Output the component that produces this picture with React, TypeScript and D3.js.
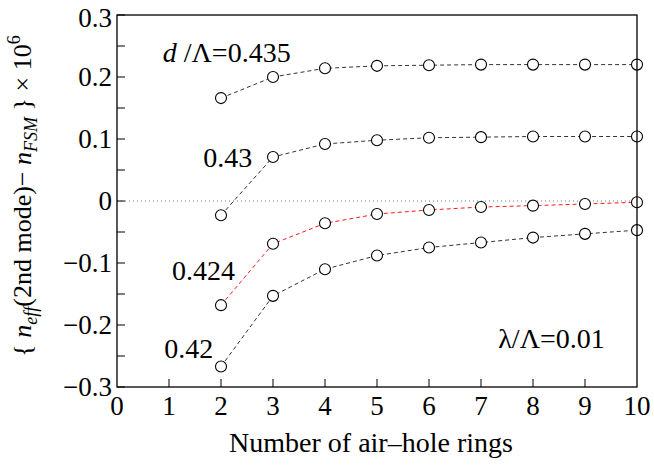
import React from 'react';
import * as d3 from 'd3';

// число колец воздушных отверстий
const rings = [2, 3, 4, 5, 6, 7, 8, 9, 10];

// {n_eff(2nd mode) - n_FSM} x 10^6
const s0435 = [0.166, 0.2, 0.214, 0.218, 0.219, 0.22, 0.22, 0.22, 0.22];
const s043 = [-0.023, 0.071, 0.092, 0.098, 0.102, 0.103, 0.104, 0.104, 0.104];
const s0424 = [-0.168, -0.069, -0.036, -0.021, -0.0145, -0.0097, -0.0075, -0.0048, -0.002];
const s042 = [-0.267, -0.153, -0.11, -0.088, -0.075, -0.067, -0.059, -0.053, -0.047];

const xTicks = [0, 1, 2, 3, 4, 5, 6, 7, 8, 9, 10];
const yTicks = [-0.3, -0.2, -0.1, 0, 0.1, 0.2, 0.3];
const yMinor = [-0.25, -0.15, -0.05, 0.05, 0.15, 0.25];

const series = [
  { name: '0.435', values: s0435, color: '#333' },
  { name: '0.43', values: s043, color: '#333' },
  { name: '0.424', values: s0424, color: '#ff1a1a' },
  { name: '0.42', values: s042, color: '#333' },
];

const width = 654;
const height = 472;
const margin = { top: 15, right: 17, bottom: 85, left: 117 };
const tf = { fontFamily: 'Liberation Serif' };

const fmtY = (v: number) => (v === 0 ? '0' : (v < 0 ? '\u2212' : '') + Math.abs(v).toFixed(1));

export default function App() {
  const x = d3.scaleLinear().domain([0, 10]).range([margin.left, width - margin.right]);
  const y = d3.scaleLinear().domain([-0.3, 0.3]).range([height - margin.bottom, margin.top]);

  const line = d3.line<number>()
    .x((_, i) => x(rings[i]))
    .y(d => y(d));

  const x0 = x(0), x1 = x(10), y0 = y(-0.3), y1 = y(0.3);

  return (
    <svg width={width} height={height} style={{ position: 'absolute', left: 0, top: 0 }}>
      <rect width={width} height={height} fill="#fff" />

      {/* нулевая линия */}
      <line x1={x0} x2={x1} y1={y(0)} y2={y(0)} stroke="#777" strokeWidth={1} strokeDasharray="1,3" />

      {/* кривые */}
      {series.map(s => (
        <path key={s.name} d={line(s.values) || ''} fill="none" stroke={s.color} strokeWidth={1} strokeDasharray="4,3" />
      ))}
      {series.map(s => s.values.map((v, i) => (
        <circle key={s.name + i} cx={x(rings[i])} cy={y(v)} r={5.5} fill="#fff" stroke="#000" strokeWidth={1.1} />
      )))}

      {/* рамка */}
      <rect x={x0} y={y1} width={x1 - x0} height={y0 - y1} fill="none" stroke="#000" strokeWidth={1.3} />

      {/* оси */}
      {xTicks.map(t => (
        <g key={'x' + t}>
          {t > 0 && t < 10 && <line x1={x(t)} x2={x(t)} y1={y0} y2={y0 - 8} stroke="#000" strokeWidth={1} />}
          <text x={x(t)} y={y0 + 28} textAnchor="middle" fontSize={27} style={tf}>{t}</text>
        </g>
      ))}
      {yTicks.concat(yMinor).map(t => (
        <line key={'yt' + t} x1={x0} x2={x0 + 8} y1={y(t)} y2={y(t)} stroke="#000" strokeWidth={1} />
      ))}
      {yTicks.map(t => (
        <text key={'yl' + t} x={x0 - 5} y={y(t) + 9 + (t === 0.3 ? 3 : 0)} textAnchor="end" fontSize={27} style={tf}>{fmtY(t)}</text>
      ))}

      {/* подписи осей */}
      <text x={(x0 + x1) / 2 - 6} y={452} textAnchor="middle" fontSize={28} style={tf}>Number of air{'\u2013'}hole rings</text>
      <text transform={`translate(31,${(y0 + y1) / 2 - 5}) rotate(-90)`} textAnchor="middle" fontSize={26} style={tf}>
        <tspan>{'{ '}</tspan>
        <tspan fontStyle="italic">n</tspan>
        <tspan fontStyle="italic" fontSize={18} dy={6}>eff</tspan>
        <tspan dy={-6}>(2nd mode){'\u2212'} </tspan>
        <tspan fontStyle="italic">n</tspan>
        <tspan fontStyle="italic" fontSize={18} dy={6}>FSM</tspan>
        <tspan dy={-6}>{' } \u00d7 10'}</tspan>
        <tspan fontSize={18} dy={-11}>6</tspan>
      </text>

      {/* аннотации */}
      <text x={x(0.88)} y={y(0.224)} fontSize={28} style={tf}>
        <tspan fontStyle="italic">d</tspan>
        <tspan> /{'\u039b'}=0.435</tspan>
      </text>
      <text x={x(2.6)} y={y(0.055)} textAnchor="end" fontSize={28} style={tf}>0.43</text>
      <text x={x(2.27)} y={y(-0.127)} textAnchor="end" fontSize={28} style={tf}>0.424</text>
      <text x={x(1.85)} y={y(-0.253)} textAnchor="end" fontSize={28} style={tf}>0.42</text>
      <text x={x(9.38)} y={y(-0.237)} textAnchor="end" fontSize={28} style={tf}>{'\u03bb/\u039b=0.01'}</text>
    </svg>
  );
}
